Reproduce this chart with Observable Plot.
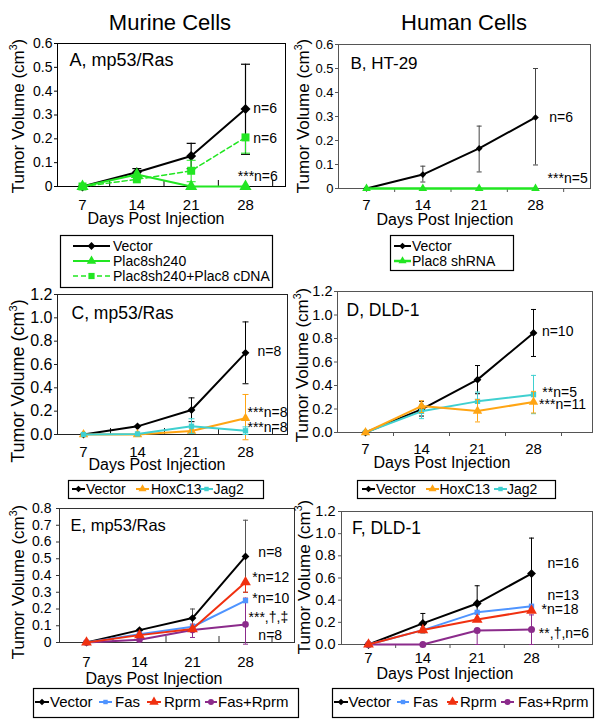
<!DOCTYPE html>
<html><head><meta charset="utf-8">
<script src="https://cdn.jsdelivr.net/npm/d3@7"></script>
<script src="https://cdn.jsdelivr.net/npm/@observablehq/plot@0.6"></script>
<style>
body{margin:0;background:#fff;}
#fig{position:relative;width:600px;height:722px;overflow:hidden;background:#fff;font-family:"Liberation Sans",Arial,sans-serif;}
</style></head><body><div id="fig"></div>
<script>
// ---------- data ----------
const days = [7, 14, 21, 28];
const dayTicks = [7, 14, 21, 28];

// Panel A (murine, mp53/Ras)
const aVector   = [0, 0.060, 0.128, 0.325];
const aVectorLo = [null, 0.045, 0.075, 0.135];
const aVectorHi = [null, 0.075, 0.181, 0.513];
const aSh240    = [0, 0.050, 0, 0];
const aRescue   = [0, 0.030, 0.066, 0.206];
const aRescueLo = [null, null, 0.020, 0.140];
const aRescueHi = [null, null, 0.110, null];
const aNotes = [["n=6", 29.0, 0.328], ["n=6", 29.0, 0.200], ["***n=6", 27.0, 0.042]];

// Panel B (human, HT-29)
const bVector   = [0, 0.058, 0.167, 0.296];
const bVectorLo = [null, 0.027, 0.069, 0.098];
const bVectorHi = [null, 0.093, 0.260, 0.500];
const bShRNA    = [0, 0, 0, 0];
const bNotes = [["n=6", 29.7, 0.296], ["***n=5", 29.5, 0.042]];

// Panel C (murine, mp53/Ras)
const cVector   = [0, 0.070, 0.210, 0.700];
const cVectorLo = [null, null, 0.110, 0.435];
const cVectorHi = [null, null, 0.314, 0.965];
const cHox      = [0, 0, 0.030, 0.140];
const cHoxLo    = [null, null, null, -0.045];
const cHoxHi    = [null, null, null, 0.343];
const cJag      = [0, 0.005, 0.071, 0.032];
const cJagLo    = [null, null, 0.010, 0.000];
const cJagHi    = [null, null, 0.135, 0.065];
const cNotes = [["n=8", 29.55, 0.711], ["***n=8", 28.25, 0.189], ["***n=8", 28.25, 0.060]];

// Panel D (human, DLD-1)
const dVector   = [0, 0.197, 0.450, 0.847];
const dVectorLo = [null, 0.140, 0.330, 0.647];
const dVectorHi = [null, 0.265, 0.570, 1.047];
const dHox      = [0, 0.225, 0.183, 0.259];
const dHoxLo    = [null, 0.170, 0.090, 0.166];
const dHoxHi    = [null, 0.270, 0.280, 0.350];
const dJag      = [0, 0.180, 0.265, 0.322];
const dJagLo    = [null, 0.118, 0.180, 0.160];
const dJagHi    = [null, 0.240, 0.344, 0.486];
const dNotes = [["n=10", 29.05, 0.862], ["**n=5", 29.1, 0.343], ["***n=11", 28.7, 0.238]];

// Panel E (murine, mp53/Ras)
const eVector   = [0, 0.074, 0.146, 0.514];
const eVectorLo = [null, null, 0.090, 0.300];
const eVectorHi = [null, null, 0.200, 0.730];
const eFas      = [0, 0.050, 0.094, 0.250];
const eRprm     = [0, 0.044, 0.080, 0.360];
const eRprmLo   = [null, null, null, 0.300];
const eBoth     = [0, 0.016, 0.074, 0.108];
const eBothLo   = [null, null, 0.030, -0.010];
const eBothHi   = [null, null, 0.110, 0.265];
const eNotes = [["n=8", 29.7, 0.539], ["*n=12", 28.9, 0.390], ["*n=10", 28.9, 0.261], ["***,\u2020,\u2021", 28.4, 0.151], ["n=8", 29.7, 0.042]];

// Panel F (human, DLD-1)
const fVector   = [0, 0.190, 0.370, 0.640];
const fVectorLo = [null, 0.105, 0.210, 0.320];
const fVectorHi = [null, 0.280, 0.530, 0.960];
const fFas      = [0, 0.130, 0.290, 0.345];
const fRprm     = [0, 0.130, 0.225, 0.306];
const fBoth     = [0, 0, 0.126, 0.135];
const fBothLo   = [null, null, 0, 0];
const fBothHi   = [null, null, null, 0.267];
const fNotes = [["n=16", 30.05, 0.728], ["n=13", 30.05, 0.442], ["*n=18", 29.3, 0.313], ["**,\u2020,n=6", 28.95, 0.097]];

// ---------- styles ----------
const BLACK = "#000", GREEN = "#22e622", ORANGE = "#ffa514", CYAN = "#40d0d0",
      BLUE = "#4f94ff", RED = "#f03010", PURPLE = "#8b2b8b";
const FONT = "Liberation Sans, Arial, sans-serif";

const capSymbol = {draw(ctx, size) { const r = Math.sqrt(size / Math.PI); ctx.moveTo(-r, 0); ctx.lineTo(r, 0); }};

function ser(name, values, lo, hi, color, symbol, r, extra = {}) {
  return Object.assign({name, values, lo, hi, color, symbol, r, lw: 2, err: color, errW: 1}, extra);
}

const panels = [
  {left: 0, L: 57, R: 285, T: 43, B: 186, cats: [82, 245], mt: 8, mb: 39, ymax: 0.6,
   yticks: [0, 0.1, 0.2, 0.3, 0.4, 0.5, 0.6], yfmt: d => d === 0 ? "0" : d.toFixed(1), yFont: 14, yPad: 2,
   xFont: 15, xPad: 13, frame: "#000", tickDir: "in", capR: 4.5, label: "A, mp53/Ras", labFont: 18, ldx: 12, ldy: 10,
   notes: aNotes,
   series: [
     ser("Vector", aVector, aVectorLo, aVectorHi, BLACK, "diamond2", 4.5, {errW: 1.2}),
     ser("Plac8sh240", aSh240, null, null, GREEN, "triangle", 4.5),
     ser("Plac8sh240+Plac8 cDNA", aRescue, aRescueLo, aRescueHi, GREEN, "square", 4.5, {lw: 1.5, dash: "5,3"})
   ]},
  {left: 300, L: 338, R: 590, T: 44, B: 188, cats: [366, 535], mt: 9, mb: 37, ymax: 0.6,
   yticks: [0, 0.1, 0.2, 0.3, 0.4, 0.5, 0.6], yfmt: d => d === 0 ? "0" : d.toFixed(1), yFont: 13, yPad: 2,
   xFont: 15, xPad: 11, frame: "#555", tickDir: "out", capR: 2.5, label: "B, HT-29", labFont: 17, ldx: 12, ldy: 12,
   notes: bNotes,
   series: [
     ser("Vector", bVector, bVectorLo, bVectorHi, BLACK, "diamond2", 3, {err: "#444"}),
     ser("Plac8 shRNA", bShRNA, null, null, GREEN, "triangle", 3.2, {lw: 2.5})
   ]},
  {left: 0, L: 57, R: 287, T: 294, B: 434, cats: [83, 245], mt: 9, mb: 31, ymax: 1.2,
   yticks: [0, 0.2, 0.4, 0.6, 0.8, 1.0, 1.2], yfmt: d => d.toFixed(1), yFont: 16, yPad: 2,
   xFont: 15, xPad: 12, frame: "#222", tickDir: "in", capR: 3, label: "C, mp53/Ras", labFont: 17.5, ldx: 14, ldy: 12.5,
   notes: cNotes,
   series: [
     ser("Vector", cVector, cVectorLo, cVectorHi, BLACK, "diamond2", 3.5),
     ser("HoxC13", cHox, cHoxLo, cHoxHi, ORANGE, "triangle", 3.5),
     ser("Jag2", cJag, cJagLo, cJagHi, CYAN, "square", 3)
   ]},
  {left: 300, L: 337, R: 592, T: 291, B: 432, cats: [365, 533], mt: 6, mb: 33, ymax: 1.2,
   yticks: [0, 0.2, 0.4, 0.6, 0.8, 1.0, 1.2], yfmt: d => d.toFixed(1), yFont: 14.5, yPad: 2,
   xFont: 15, xPad: 10.5, frame: "#555", tickDir: "out", capR: 2.5, label: "D, DLD-1", labFont: 17.5, ldx: 9, ldy: 12.5,
   notes: dNotes,
   series: [
     ser("Vector", dVector, dVectorLo, dVectorHi, BLACK, "diamond2", 3.5),
     ser("Jag2", dJag, dJagLo, dJagHi, CYAN, "square", 3),
     ser("HoxC13", dHox, dHoxLo, dHoxHi, ORANGE, "triangle", 3.5)
   ]},
  {left: 0, L: 59, R: 294, T: 508, B: 642, cats: [86, 245], mt: 8, mb: 33, ymax: 0.8,
   yticks: [0, 0.1, 0.2, 0.3, 0.4, 0.5, 0.6, 0.7, 0.8], yfmt: d => d === 0 ? "0" : d.toFixed(1), yFont: 14, yPad: 5,
   xFont: 15, xPad: 14, frame: "#333", tickDir: "in", capR: 2.5, label: "E, mp53/Ras", labFont: 16.5, ldx: 11, ldy: 10.5,
   notes: eNotes,
   series: [
     ser("Vector", eVector, eVectorLo, eVectorHi, BLACK, "diamond2", 3.5, {err: "#555"}),
     ser("Fas+Rprm", eBoth, eBothLo, eBothHi, PURPLE, "circle", 3.3),
     ser("Fas", eFas, null, null, BLUE, "square", 3),
     ser("Rprm", eRprm, eRprmLo, null, RED, "triangle", 4)
   ]},
  {left: 300, L: 341, R: 592, T: 511, B: 644, cats: [368, 531], mt: 11, mb: 31, ymax: 1.2,
   yticks: [0, 0.2, 0.4, 0.6, 0.8, 1.0, 1.2], yfmt: d => d.toFixed(1), yFont: 14.5, yPad: 3,
   xFont: 15, xPad: 8, frame: "#555", tickDir: "out", capR: 2.5, label: "F, DLD-1", labFont: 17.5, ldx: 10.5, ldy: 10,
   notes: fNotes,
   series: [
     ser("Vector", fVector, fVectorLo, fVectorHi, BLACK, "diamond2", 4),
     ser("Fas+Rprm", fBoth, fBothLo, fBothHi, PURPLE, "circle", 3.5),
     ser("Fas", fFas, null, null, BLUE, "square", 3),
     ser("Rprm", fRprm, null, null, RED, "triangle", 4)
   ]}
];

const fig = document.getElementById("fig");

function drawPanel(p) {
  const s = (p.cats[1] - p.cats[0]) / 21;
  const x0 = 7 - (p.cats[0] - p.L) / s, x1 = 28 + (p.R - p.cats[1]) / s;
  const top = p.T - p.mt, height = (p.B - p.T) + p.mt + p.mb;
  const bounds = [3.5, 10.5, 17.5, 24.5, 31.5, 38.5].filter(b => b > x0 + 0.3 && b < x1 - 0.3);
  const marks = [Plot.frame({stroke: p.frame, strokeWidth: 1})];
  if (p.tickDir === "in") {
    marks.push(Plot.ruleX(bounds, {x: d => d, insetTop: (p.B - p.T) - 6, stroke: p.frame}));
  } else {
    marks.push(Plot.axisX({ticks: bounds, tickSize: 4, tickFormat: () => "", stroke: p.frame, label: null}));
  }
  marks.push(Plot.axisY({ticks: p.yticks, tickFormat: p.yfmt, tickSize: 3, tickPadding: p.yPad, fontSize: p.yFont, label: null, stroke: p.frame}));
  marks.push(Plot.axisX({ticks: dayTicks, tickSize: 0, tickPadding: p.xPad, fontSize: p.xFont, label: null}));
  for (const sr of p.series) {
    const rows = days.map((d, i) => ({day: d, v: sr.values[i], lo: sr.lo ? sr.lo[i] : null, hi: sr.hi ? sr.hi[i] : null}));
    const err = rows.filter(r => r.lo != null || r.hi != null);
    marks.push(Plot.ruleX(err, {x: "day", y1: r => r.lo ?? r.v, y2: r => r.hi ?? r.v, stroke: sr.err, strokeWidth: sr.errW}));
    marks.push(Plot.dot(err.filter(r => r.hi != null), {x: "day", y: "hi", symbol: capSymbol, r: p.capR, fill: "none", stroke: sr.err, strokeWidth: sr.errW}));
    marks.push(Plot.dot(err.filter(r => r.lo != null), {x: "day", y: "lo", symbol: capSymbol, r: p.capR, fill: "none", stroke: sr.err, strokeWidth: sr.errW}));
    marks.push(Plot.line(rows, {x: "day", y: "v", stroke: sr.color, strokeWidth: sr.lw, strokeDasharray: sr.dash}));
    marks.push(Plot.dot(rows, {x: "day", y: "v", symbol: sr.symbol, r: sr.r, fill: sr.color, stroke: "none"}));
  }
  marks.push(Plot.text(p.notes, {x: d => d[1], y: d => d[2], text: d => d[0], textAnchor: "start", fontSize: 14, fill: "#000"}));
  marks.push(Plot.text([p.label], {frameAnchor: "top-left", text: d => d, dx: p.ldx, dy: p.ldy, fontSize: p.labFont, fill: "#000"}));
  const chart = Plot.plot({
    width: 300, height,
    marginLeft: p.L - p.left, marginRight: p.left + 300 - p.R, marginTop: p.mt, marginBottom: p.mb,
    x: {type: "linear", domain: [x0, x1]},
    y: {type: "linear", domain: [0, p.ymax]},
    style: {fontFamily: FONT, background: "transparent", overflow: "visible", color: "#000"},
    marks
  });
  chart.style.position = "absolute";
  chart.style.left = p.left + "px";
  chart.style.top = top + "px";
  chart.style.maxWidth = "none";
  fig.appendChild(chart);
}
panels.forEach(drawPanel);

// ---------- titles & legends overlay ----------
const ov = d3.select(fig).append("svg").attr("width", 600).attr("height", 722)
  .style("position", "absolute").style("left", "0px").style("top", "0px")
  .style("font-family", FONT).style("pointer-events", "none");

ov.append("text").attr("x", 170).attr("y", 30).attr("text-anchor", "middle").attr("font-size", 22).text("Murine Cells");
ov.append("text").attr("x", 464).attr("y", 30).attr("text-anchor", "middle").attr("font-size", 22).text("Human Cells");

const xTitles = [[156, 224], [445, 225], [157, 470], [442, 468], [154, 684], [445, 679]];
xTitles.forEach(([x, y]) => ov.append("text").attr("x", x).attr("y", y).attr("text-anchor", "middle").attr("font-size", 16).text("Days Post Injection"));

const yTitles = [[18, 116, 17], [303, 116, 17], [18, 381, 18], [302, 365, 17], [18, 582, 17], [303.5, 577, 17]];
yTitles.forEach(([x, y, fs]) => {
  const t = ov.append("text").attr("transform", `translate(${x},${y}) rotate(-90)`).attr("text-anchor", "middle")
    .attr("dy", "0.36em").attr("font-size", fs);
  t.append("tspan").text("Tumor Volume (cm");
  t.append("tspan").attr("font-size", fs * 0.62).attr("dy", -fs * 0.42).text("3");
  t.append("tspan").attr("dy", fs * 0.42).text(")");
});

const symTypes = {diamond2: d3.symbolDiamond2, triangle: d3.symbolTriangle, square: d3.symbolSquare, circle: d3.symbolCircle};
function legend(box, items, fs) {
  ov.append("rect").attr("x", box[0] + 0.5).attr("y", box[1] + 0.5).attr("width", box[2]).attr("height", box[3])
    .attr("fill", "none").attr("stroke", "#000").attr("stroke-width", 1.2);
  for (const it of items) {
    const sr = it.s;
    ov.append("line").attr("x1", it.x1).attr("x2", it.x2).attr("y1", it.y).attr("y2", it.y)
      .attr("stroke", sr.color).attr("stroke-width", sr.lw).attr("stroke-dasharray", sr.dash || null);
    ov.append("path").attr("d", d3.symbol(symTypes[sr.symbol], Math.PI * it.r * it.r)())
      .attr("transform", `translate(${(it.x1 + it.x2) / 2},${it.y})`).attr("fill", sr.color);
    ov.append("text").attr("x", it.tx).attr("y", it.y).attr("dy", "0.36em").attr("font-size", fs).text(sr.name);
  }
}
const [pA, pB, pC, pD, pE, pF] = panels;
legend([60, 235, 212, 52], [
  {s: pA.series[0], x1: 73, x2: 110, tx: 113, y: 246, r: 3.5},
  {s: pA.series[1], x1: 73, x2: 110, tx: 113, y: 261, r: 3.5},
  {s: pA.series[2], x1: 73, x2: 110, tx: 113, y: 276, r: 3.5}], 14);
legend([390, 235, 123, 35], [
  {s: pB.series[0], x1: 394, x2: 411, tx: 412, y: 246, r: 3},
  {s: pB.series[1], x1: 394, x2: 411, tx: 412, y: 261, r: 3}], 14);
legend([68, 480, 195, 18], [
  {s: pC.series[0], x1: 72, x2: 85, tx: 86, y: 489, r: 3},
  {s: pC.series[1], x1: 136, x2: 149, tx: 151, y: 489, r: 3},
  {s: pC.series[2], x1: 200, x2: 213, tx: 213.5, y: 489, r: 2.5}], 14);
legend([357, 480, 198, 18], [
  {s: pD.series[0], x1: 362, x2: 375, tx: 376, y: 489, r: 3},
  {s: pD.series[2], x1: 426, x2: 439, tx: 439.5, y: 489, r: 3},
  {s: pD.series[1], x1: 494, x2: 507, tx: 507, y: 489, r: 2.5}], 14);
legend([33, 688, 265, 29], [
  {s: pE.series[0], x1: 35, x2: 49, tx: 50, y: 702, r: 3},
  {s: pE.series[2], x1: 99, x2: 112, tx: 115, y: 702, r: 2.5},
  {s: pE.series[3], x1: 147, x2: 161, tx: 164, y: 702, r: 3.5},
  {s: pE.series[1], x1: 205, x2: 217, tx: 218, y: 702, r: 3}], 15);
legend([332, 688, 261, 29], [
  {s: pF.series[0], x1: 334, x2: 348, tx: 348.5, y: 702, r: 3},
  {s: pF.series[2], x1: 397, x2: 409, tx: 413, y: 702, r: 2.5},
  {s: pF.series[3], x1: 447, x2: 458, tx: 460, y: 702, r: 3.5},
  {s: pF.series[1], x1: 501, x2: 514, tx: 518, y: 702, r: 3}], 15);
</script></body></html>
